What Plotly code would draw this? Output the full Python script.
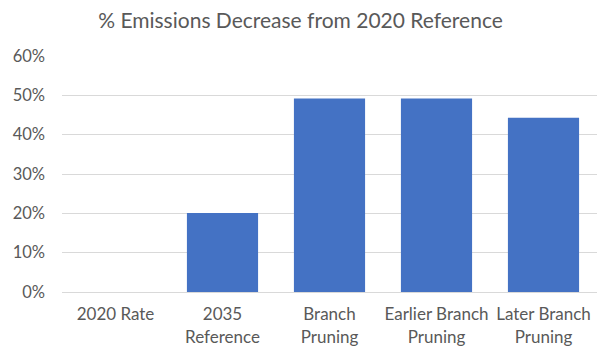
import plotly.graph_objects as go

categories = ["2020 Rate", "2035<br>Reference", "Branch<br>Pruning",
              "Earlier Branch<br>Pruning", "Later Branch<br>Pruning"]
decrease = [0.0, 0.201, 0.492, 0.492, 0.443]
y_ticks = [0, 0.1, 0.2, 0.3, 0.4, 0.5, 0.6]

FONT = "Lato"
GRAY = "#595959"

fig = go.Figure(go.Bar(x=categories, y=decrease, marker_color="#4472C4",
                       marker_line_width=0))
fig.update_layout(
    width=601, height=348,
    margin=dict(l=62, r=4, t=56, b=56, autoexpand=False),
    plot_bgcolor="white", paper_bgcolor="white",
    bargap=0.335,
    showlegend=False,
    title=dict(text="% Emissions Decrease from 2020 Reference",
               x=0.5, xanchor="center", y=0.942, yanchor="middle",
               font=dict(family=FONT, size=21, color=GRAY)),
    font=dict(family=FONT, size=17, color=GRAY),
)
fig.update_yaxes(range=[0, 0.6], tickvals=y_ticks, tickformat=".0%",
                 showgrid=True, gridcolor="#d9d9d9", gridwidth=1,
                 zeroline=False, showline=False, ticks="", automargin=False,
                 ticklabelstandoff=16,
                 tickfont=dict(family=FONT, size=16.5, color=GRAY))
fig.update_xaxes(showline=True, linecolor="#d9d9d9", linewidth=1, ticks="",
                 automargin=False, ticklabelstandoff=7,
                 tickfont=dict(family=FONT, size=17, color=GRAY))
fig.write_html("out.html")
